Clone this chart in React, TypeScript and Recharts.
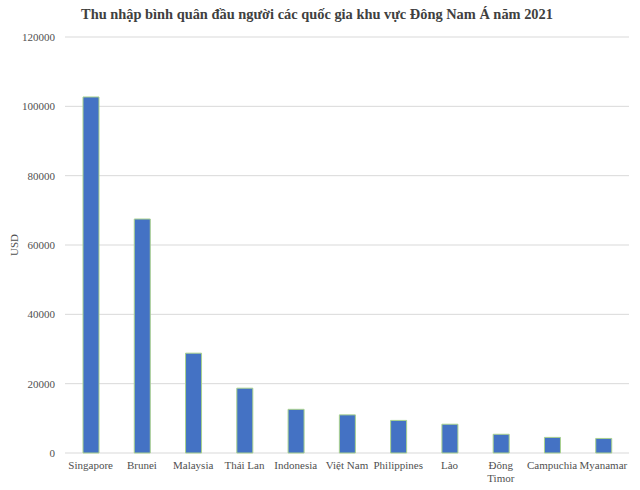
import { Bar, BarChart, CartesianGrid, XAxis, YAxis } from 'recharts'

const countries = [
  'Singapore',
  'Brunei',
  'Malaysia',
  'Thái Lan',
  'Indonesia',
  'Việt Nam',
  'Philippines',
  'Lào',
  'Đông Timor',
  'Campuchia',
  'Myanamar',
]

// tick labels, one entry per line
const tickLines: Record<string, string[]> = {
  'Đông Timor': ['Đông', 'Timor'],
}

const income = [102700, 67500, 28800, 18700, 12600, 11000, 9400, 8300, 5400, 4500, 4200]

const yTicks = [0, 20000, 40000, 60000, 80000, 100000, 120000]

const data = countries.map((name, i) => ({ name, value: income[i] }))

const font = '"Liberation Serif", "Times New Roman", serif'

function CountryTick({ x, y, payload }: any) {
  const lines = tickLines[payload.value] ?? [payload.value]
  return (
    <text
      x={x}
      y={y}
      textAnchor="middle"
      fill="#505050"
      fontSize={11}
      fontFamily={font}
    >
      {lines.map((line, i) => (
        <tspan key={line} x={x} dy={i === 0 ? '0.71em' : '1.2em'}>
          {line}
        </tspan>
      ))}
    </text>
  )
}

function UsdLabel({ viewBox }: any) {
  const cy = viewBox.y + viewBox.height / 2
  return (
    <text
      x={18}
      y={cy}
      transform={`rotate(-90, 18, ${cy})`}
      textAnchor="middle"
      fill="#505050"
      fontSize={11}
      fontFamily={font}
    >
      USD
    </text>
  )
}

export default function App() {
  return (
    <div
      style={{
        position: 'absolute',
        left: 0,
        top: 0,
        width: 640,
        height: 490,
        background: '#fff',
      }}
    >
      <div
        style={{
          position: 'absolute',
          top: 6,
          left: 0,
          width: 634,
          textAlign: 'center',
          fontFamily: font,
          fontWeight: 'bold',
          fontSize: 14.4,
          color: '#404040',
        }}
      >
        Thu nhập bình quân đầu người các quốc gia khu vực Đông Nam Á năm 2021
      </div>
      <BarChart
        width={640}
        height={490}
        data={data}
        margin={{ top: 37, right: 11, bottom: 0, left: 0 }}
      >
        <CartesianGrid vertical={false} stroke="#d9d9d9" />
        <XAxis
          dataKey="name"
          interval={0}
          tickLine={false}
          axisLine={false}
          height={37}
          tick={<CountryTick />}
        />
        <YAxis
          width={65}
          domain={[0, 120000]}
          ticks={yTicks}
          tickLine={false}
          axisLine={false}
          tick={{ fill: '#505050', stroke: 'none', fontSize: 11, fontFamily: font, dx: -2 }}
          label={<UsdLabel />}
        />
        <Bar
          dataKey="value"
          fill="#4472c4"
          stroke="#a9d18e"
          strokeWidth={1}
          barSize={16}
          isAnimationActive={false}
        />
      </BarChart>
    </div>
  )
}
